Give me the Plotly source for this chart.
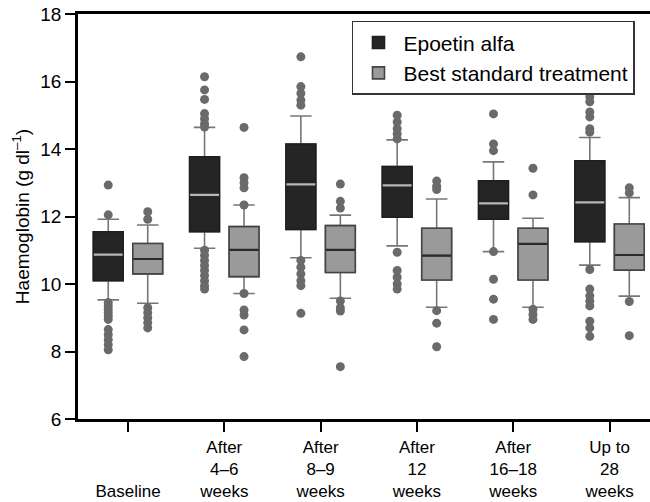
import plotly.graph_objects as go

categories = ["<br><br>Baseline", "After<br>4–6<br>weeks", "After<br>8–9<br>weeks",
              "After<br>12<br>weeks", "After<br>16–18<br>weeks", "Up to<br>28<br>weeks"]

# Epoetin alfa
epo_q1 = [10.10, 11.55, 11.62, 11.98, 11.92, 11.25]
epo_med = [10.87, 12.64, 12.95, 12.92, 12.39, 12.42]
epo_q3 = [11.55, 13.77, 14.15, 13.48, 13.06, 13.65]
epo_lo = [9.53, 11.06, 10.78, 11.13, 10.96, 10.56]
epo_hi = [11.92, 14.64, 14.98, 14.27, 13.62, 14.34]
epo_out = [
    [12.93, 12.05, 9.45, 9.35, 9.25, 9.15, 9.05, 8.95, 8.65, 8.5, 8.35, 8.2, 8.05],
    [16.14, 15.75, 15.47, 15.05, 14.9, 14.75, 14.65, 11.0, 10.85, 10.7, 10.55, 10.4, 10.25, 10.1, 9.95, 9.85],
    [16.73, 15.85, 15.65, 15.45, 15.3, 10.7, 10.5, 10.3, 10.1, 9.95, 9.13],
    [15.0, 14.8, 14.6, 14.45, 14.3, 10.94, 10.4, 10.2, 10.0, 9.85],
    [15.04, 14.15, 13.95, 10.96, 10.14, 9.55, 8.95],
    [15.55, 15.4, 15.1, 14.95, 14.6, 14.5, 10.43, 9.85, 9.65, 9.5, 9.35, 8.9, 8.7, 8.45],
]

# Best standard treatment
bst_q1 = [10.30, 10.22, 10.34, 10.12, 10.12, 10.41]
bst_med = [10.74, 11.01, 11.01, 10.84, 11.19, 10.86]
bst_q3 = [11.20, 11.70, 11.73, 11.65, 11.65, 11.78]
bst_lo = [9.43, 9.72, 9.58, 9.31, 9.31, 9.64]
bst_hi = [11.75, 12.34, 12.04, 12.52, 11.95, 12.56]
bst_out = [
    [12.14, 11.92, 9.3, 9.15, 9.0, 8.85, 8.7],
    [14.64, 13.15, 13.0, 12.85, 12.34, 9.72, 9.23, 9.08, 8.64, 7.85],
    [12.96, 12.45, 12.25, 9.5, 9.3, 9.2, 7.55],
    [13.05, 12.9, 12.8, 9.21, 8.84, 8.14],
    [13.43, 12.64, 9.25, 9.1, 8.95],
    [12.85, 12.7, 9.48, 8.47],
]

FONT = "Liberation Sans, Arial, sans-serif"
OFFSET = 0.205
BOXW = 0.31
WHISKER_C = "#777777"
OUT_C = "#6a6a6a"

series = [
    dict(name="Epoetin alfa", q1=epo_q1, med=epo_med, q3=epo_q3, lo=epo_lo, hi=epo_hi,
         out=epo_out, sign=-1, fill="#252525", line="#1e1e1e", medc="#b8b8b8"),
    dict(name="Best standard treatment", q1=bst_q1, med=bst_med, q3=bst_q3, lo=bst_lo, hi=bst_hi,
         out=bst_out, sign=1, fill="#9a9a9a", line="#444444", medc="#2a2a2a"),
]

fig = go.Figure()
n = len(categories)
for s in series:
    xs = [i + s["sign"] * OFFSET for i in range(n)]
    # whiskers (gray)
    fig.add_trace(go.Box(x=xs, q1=s["q1"], median=s["med"], q3=s["q3"],
                         lowerfence=s["lo"], upperfence=s["hi"], width=BOXW,
                         whiskerwidth=0.72, line=dict(color=WHISKER_C, width=1.6),
                         fillcolor=s["fill"], showlegend=False, hoverinfo="skip"))
    # box body
    fig.add_trace(go.Box(x=xs, q1=s["q1"], median=s["med"], q3=s["q3"],
                         lowerfence=s["q1"], upperfence=s["q3"], width=BOXW,
                         whiskerwidth=0, line=dict(color=s["line"], width=1.6),
                         fillcolor=s["fill"], name=s["name"], showlegend=True))
    # median line
    fig.add_trace(go.Box(x=xs, q1=s["med"], median=s["med"], q3=s["med"],
                         lowerfence=s["med"], upperfence=s["med"], width=BOXW - 0.01,
                         whiskerwidth=0, line=dict(color=s["medc"], width=2.2),
                         fillcolor="rgba(0,0,0,0)", showlegend=False, hoverinfo="skip"))

for s in series:
    ox, oy = [], []
    for i, vals in enumerate(s["out"]):
        for v in vals:
            ox.append(i + s["sign"] * OFFSET)
            oy.append(v)
    fig.add_trace(go.Scatter(x=ox, y=oy, mode="markers",
                             marker=dict(color=OUT_C, size=9, line=dict(width=0)),
                             showlegend=False, hoverinfo="skip"))

fig.update_layout(
    width=650, height=502,
    margin=dict(l=78, r=0, t=14, b=83),
    paper_bgcolor="white", plot_bgcolor="white",
    boxmode="overlay",
    font=dict(family=FONT, color="black", size=17),
    showlegend=True,
    legend=dict(x=0.479, y=0.983, xanchor="left", yanchor="top",
                bgcolor="white", bordercolor="#333333", borderwidth=1.5,
                font=dict(size=21, family=FONT, color="black"),
                tracegroupgap=0, itemwidth=40),
    xaxis=dict(range=[-0.519, 5.42], tickvals=list(range(n)), ticktext=categories,
               showgrid=False, zeroline=False, showline=True, linecolor="black",
               linewidth=2.5, mirror=True, ticks="outside", ticklen=10, tickwidth=2,
               tickcolor="black", tickfont=dict(size=17, family=FONT),
               ticklabelstandoff=1, automargin=False),
    yaxis=dict(range=[6, 18], tickvals=[6, 8, 10, 12, 14, 16, 18],
               showgrid=False, zeroline=False, showline=True, linecolor="black",
               linewidth=2.5, ticks="outside", ticklen=10, tickwidth=2,
               tickcolor="black", tickfont=dict(size=19, family=FONT),
               automargin=False,
               title=dict(text="Haemoglobin (g dl<sup>–1</sup>)",
                          font=dict(size=19, family=FONT), standoff=6)),
)

fig.write_html("out.html", config={"displayModeBar": False},
               post_script="document.body.style.margin='0';")
